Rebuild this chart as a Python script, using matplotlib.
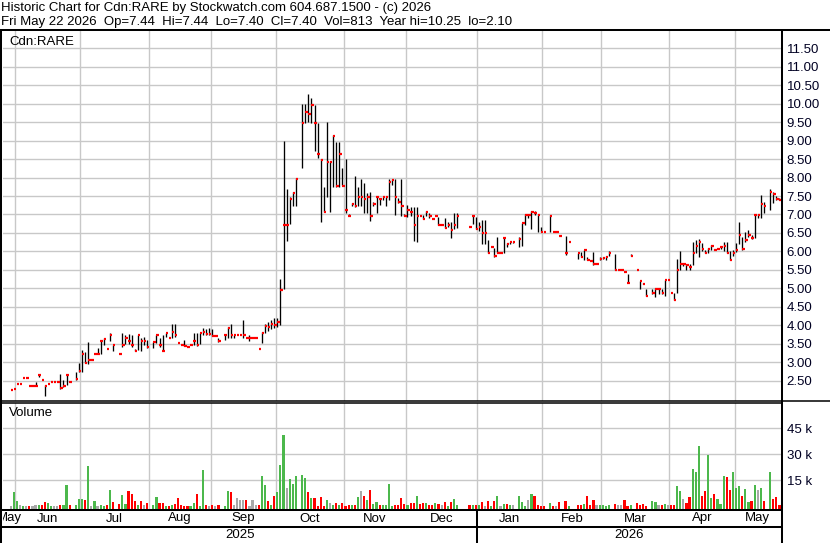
import numpy as np
import pandas as pd
import matplotlib
matplotlib.use("Agg")
import matplotlib.pyplot as plt
from matplotlib.lines import Line2D
from matplotlib.patches import Rectangle
from matplotlib.transforms import blended_transform_factory

plt.rcParams['font.family'] = ['Liberation Sans', 'DejaVu Sans']

# ---------------- text ----------------
TITLE = "Historic Chart for Cdn:RARE by Stockwatch.com 604.687.1500 - (c) 2026"
SUBTITLE = "Fri May 22 2026  Op=7.44  Hi=7.44  Lo=7.40  Cl=7.40  Vol=813  Year hi=10.25  lo=2.10"
SYMBOL = "Cdn:RARE"
VOL_LABEL = "Volume"

# ---------------- trading calendar ----------------
start_date, end_date = "2025-05-27", "2026-05-22"
holidays = ["2025-07-01", "2025-08-04", "2025-09-01", "2025-10-13",
            "2026-01-01", "2026-02-16", "2026-04-03", "2026-05-18"]

# ---------------- daily data ----------------
close = [
    # May 2025
    None, None, 2.25, 2.29,
    # Jun
    2.42, 2.42, 2.59, 2.59, 2.37, 2.37, 2.37, 2.66, 2.54, 2.37, 2.42, 2.48, 2.48, 2.48, 2.32, 2.37, 2.66, 2.48, None, 2.55, 2.78,
    # Jul
    3.23, 2.98, 3.07, 3.07, 3.23, 3.23, 3.59, 3.64, 3.36, 3.73, 3.48, None, 3.23, 3.48, 3.66, 3.59, 3.48, 3.32, 3.73, 3.59, 3.59, 3.43,
    # Aug
    None, 3.55, 3.73, 3.48, 3.32, 3.79, 3.67, 3.83, 3.73, 3.54, 3.48, 3.45, 3.43, 3.48, 3.59, 3.48, 3.79, 3.83, 3.78, 3.78,
    # Sep
    3.72, 3.72, 3.59, None, 3.73, 3.94, 3.73, 3.73, 3.73, 3.73, 3.73, 3.67, 3.67, 3.67, 3.67, 3.37, 3.79, 3.99, 3.95, 4.05, 4.00,
    # Oct
    4.10, 4.97, 6.72, 6.72, 7.42, 7.59, 7.96, None, 9.48, 9.78, 9.72, 9.96, 9.48, 8.64, 8.47, 7.08, 8.43, 8.43, 9.13, 7.78, 8.64, 7.78,
    # Nov
    7.12, 6.97, 7.28, 7.24, 7.48, 7.48, 7.42, 7.48, 6.97, 7.28, 7.48, 7.42, 7.46, 7.48, 7.89, 7.93, 7.48, 7.33, 7.24, 6.97,
    # Dec
    7.12, 7.08, 6.72, 6.97, 6.95, 6.88, 7.08, 6.97, 6.88, 6.97, 6.72, 6.72, 6.64, 6.72, 6.58, 6.72, 6.97, None, None, None, 6.67, 6.97, 6.61,
    # Jan 2026
    6.67, 6.49, 6.49, 5.97, 6.13, 5.89, 5.97, 5.97, 6.37, 6.19, 6.25, 6.25, None, 6.33, 6.77, 6.98, 6.98, 7.08, 7.05, 6.98, 6.54,
    # Feb
    6.53, None, 6.95, 6.53, 6.53, 6.41, None, 5.97, 6.25, None, None, 5.97, 5.84, 6.03, 5.78, 5.73, 5.65, 5.65, 5.80,
    # Mar
    5.82, 5.85, 5.97, None, 5.51, 5.51, 5.51, 5.44, 5.15, 5.89, None, 5.51, 5.19, 5.13, 4.79, None, 4.89, 4.98, 4.98, 4.89, 5.22, 5.22,
    # Apr
    4.89, 4.68, 5.49, 5.67, 5.67, 5.64, 5.58, 5.97, 6.14, 6.25, 6.08, 5.97, 6.08, 6.14, 6.05, 6.08, 6.12, 6.14, 5.96, 5.78, 5.96,
    # May
    6.05, 6.45, 6.08, 6.30, 6.45, 6.36, 6.98, 6.98, 7.29, 7.24, None, 7.62, 7.56, 7.42, 7.40,
]

high = [
    # May 2025
    None, None, 2.25, 2.29,
    # Jun
    2.42, 2.42, 2.59, 2.59, 2.37, 2.37, 2.48, 2.69, 2.54, 2.39, 2.42, 2.48, 2.48, 2.48, 2.69, 2.53, 2.66, 2.48, None, 2.75, 2.98,
    # Jul
    3.34, 3.29, 3.55, 3.07, 3.23, 3.38, 3.59, 3.65, 3.36, 3.81, 3.48, None, 3.23, 3.81, 3.74, 3.78, 3.74, 3.36, 3.74, 3.65, 3.70, 3.61,
    # Aug
    None, 3.56, 3.74, 3.65, 3.74, 3.81, 3.67, 4.04, 4.04, 3.54, 3.48, 3.60, 3.43, 3.48, 3.79, 3.81, 3.81, 3.93, 3.90, 3.93,
    # Sep
    3.90, 3.72, 3.65, None, 3.74, 3.97, 4.03, 3.73, 3.73, 3.73, 4.15, 3.67, 3.73, 3.67, 3.67, 3.37, 3.83, 4.05, 4.10, 4.15, 4.20,
    # Oct
    4.20, 5.26, 8.99, 7.69, 7.48, 7.62, 7.98, None, 9.99, 9.98, 10.25, 10.16, 9.96, 9.46, 8.50, 7.75, 9.51, 8.45, 9.15, 8.97, 8.95, 8.27,
    # Nov
    8.50, 7.00, 7.30, 8.05, 7.75, 7.96, 7.84, 7.57, 7.60, 7.35, 7.48, 7.45, 7.48, 7.48, 7.96, 7.96, 7.96, 7.44, 7.96, 7.00,
    # Dec
    7.26, 7.21, 7.21, 7.21, 6.97, 6.99, 7.10, 7.03, 6.88, 6.97, 6.94, 6.72, 6.91, 6.80, 6.80, 7.03, 7.03, None, None, None, 6.67, 6.99, 6.94,
    # Jan 2026
    6.80, 6.85, 6.85, 6.31, 6.13, 6.10, 6.40, 5.97, 6.40, 6.22, 6.27, 6.27, None, 6.40, 6.77, 7.00, 6.99, 7.10, 7.10, 6.99, 6.65,
    # Feb
    6.53, None, 6.99, 6.53, 6.53, 6.41, None, 6.41, 6.25, None, None, 5.97, 5.99, 6.05, 5.85, 5.73, 5.98, 5.65, 5.84,
    # Mar
    5.84, 5.87, 6.00, None, 5.94, 5.51, 5.51, 5.44, 5.40, 5.92, None, 5.51, 5.19, 5.15, 4.98, None, 4.98, 5.01, 4.98, 4.98, 5.22, 5.22,
    # Apr
    4.89, 4.89, 5.80, 6.00, 5.67, 5.67, 5.67, 6.25, 6.30, 6.34, 6.22, 6.05, 6.10, 6.18, 6.08, 6.08, 6.14, 6.27, 6.25, 6.00, 6.05,
    # May
    6.23, 6.81, 6.40, 6.54, 6.59, 6.45, 6.99, 7.00, 7.53, 7.35, None, 7.68, 7.62, 7.50, 7.44,
]

low = [
    # May 2025
    None, None, 2.25, 2.29,
    # Jun
    2.42, 2.42, 2.59, 2.59, 2.37, 2.37, 2.37, 2.60, 2.54, 2.10, 2.42, 2.48, 2.48, 2.48, 2.29, 2.35, 2.39, 2.48, None, 2.53, 2.75,
    # Jul
    2.73, 2.98, 2.96, 3.07, 3.23, 3.23, 3.23, 3.47, 3.36, 3.59, 3.30, None, 3.23, 3.43, 3.50, 3.50, 3.43, 3.32, 3.34, 3.32, 3.48, 3.39,
    # Aug
    None, 3.38, 3.52, 3.43, 3.30, 3.70, 3.67, 3.65, 3.70, 3.54, 3.48, 3.45, 3.43, 3.48, 3.47, 3.45, 3.50, 3.74, 3.75, 3.75,
    # Sep
    3.72, 3.72, 3.56, None, 3.60, 3.65, 3.65, 3.66, 3.73, 3.73, 3.65, 3.67, 3.59, 3.67, 3.67, 3.37, 3.54, 3.80, 3.85, 3.90, 3.92,
    # Oct
    3.95, 4.00, 4.99, 6.29, 6.73, 7.24, 7.24, None, 8.25, 9.48, 9.51, 9.48, 8.72, 8.54, 6.79, 7.06, 7.48, 7.08, 7.73, 7.75, 7.75, 7.80,
    # Nov
    7.03, 6.95, 7.22, 7.21, 7.24, 7.24, 7.03, 7.03, 6.82, 7.24, 7.03, 7.27, 7.40, 7.24, 7.39, 7.80, 6.99, 7.30, 6.97, 6.95,
    # Dec
    6.94, 6.97, 6.28, 6.25, 6.95, 6.88, 6.97, 6.90, 6.88, 6.97, 6.72, 6.72, 6.64, 6.67, 6.37, 6.61, 6.63, None, None, None, 6.67, 6.73, 6.61,
    # Jan 2026
    6.55, 6.19, 6.19, 5.95, 6.13, 5.86, 5.95, 5.97, 5.95, 6.12, 6.20, 6.22, None, 6.12, 6.14, 6.72, 6.90, 6.60, 6.98, 6.54, 6.54,
    # Feb
    6.53, None, 6.52, 6.53, 6.53, 6.41, None, 5.91, 6.25, None, None, 5.80, 5.84, 5.78, 5.78, 5.73, 5.64, 5.65, 5.76,
    # Mar
    5.80, 5.78, 5.89, None, 5.49, 5.51, 5.51, 5.44, 5.15, 5.89, None, 5.51, 4.98, 5.13, 4.79, None, 4.86, 4.77, 4.85, 4.85, 4.79, 5.22,
    # Apr
    4.89, 4.68, 4.89, 5.51, 5.60, 5.51, 5.51, 5.64, 5.95, 5.85, 6.00, 5.95, 5.97, 6.05, 6.05, 6.08, 6.07, 6.00, 5.96, 5.76, 5.88,
    # May
    5.99, 6.20, 6.05, 6.27, 6.40, 6.33, 6.36, 6.90, 6.90, 7.04, None, 7.11, 7.31, 7.40, 7.40,
]

volume_k = [
    # May 2025
    0, 0, 0.3, 8.1,
    # Jun
    3.1, 0.5, 0.3, 0.3, 0.3, 0.3, 0.5, 0.5, 0.8, 2.3, 2.0, 0.3, 0.3, 0.3, 0.5, 0.5, 12.3, 0.5, 0, 0.5, 4.2,
    # Jul
    4.2, 3.6, 23.3, 0.3, 3.0, 0.3, 0.5, 0.2, 0.5, 9.4, 2.5, 0, 1.3, 6.5, 1.3, 8.8, 7.1, 3.1, 0.5, 3.1, 0.5, 1.9,
    # Aug
    0, 0.8, 5.4, 1.9, 1.9, 0.2, 0.2, 0.8, 1.3, 4.8, 0.5, 0.2, 0.2, 0.2, 1.9, 7.1, 0.2, 21.0, 0.5, 0.2,
    # Sep
    0.5, 0.2, 0.5, 0, 0.2, 8.8, 8.3, 0.8, 4.8, 3.6, 3.6, 3.6, 0.2, 3.6, 0.5, 0.5, 17.5, 12.3, 3.1, 0.8, 6.0,
    # Oct
    8.3, 23.8, 41.0, 10.6, 15.8, 12.9, 17.5, 0, 18.0, 16.3, 8.3, 4.8, 4.8, 0.2, 5.4, 0.2, 3.6, 1.9, 0.5, 1.9, 0.5, 1.9,
    # Nov
    0.3, 0.8, 0.8, 0.8, 5.4, 8.8, 6.0, 3.6, 9.4, 1.3, 2.5, 0.5, 0.8, 0.8, 12.9, 0.2, 0.5, 0.5, 4.8, 1.3,
    # Dec
    0.8, 1.9, 1.9, 6.0, 1.3, 1.9, 1.9, 0.8, 0.8, 1.9, 1.3, 0.8, 2.5, 0.2, 2.5, 4.2, 0.5, 0, 0, 0, 0.5, 0.5, 0.5,
    # Jan 2026
    0.8, 2.5, 0.2, 3.1, 0.2, 3.1, 6.0, 0.2, 1.3, 1.3, 0.8, 0.5, 0, 6.0, 2.5, 0.2, 3.6, 7.1, 6.0, 0.8, 0.3,
    # Feb
    0.3, 0, 1.9, 0.2, 0.2, 2.5, 0, 3.1, 0.2, 0, 0, 0.5, 0.8, 1.3, 6.0, 0.5, 3.6, 0.5, 0.5,
    # Mar
    0.5, 0.2, 0.8, 0, 1.3, 0.5, 0.5, 3.6, 0.2, 0.5, 0, 1.9, 0.5, 1.3, 0.2, 0, 3.1, 2.5, 0.5, 0.5, 1.3, 0.5,
    # Apr
    0.8, 0.5, 11.7, 8.8, 4.0, 1.9, 5.4, 21.5, 19.8, 34.8, 6.0, 8.8, 29.6, 4.8, 7.1, 4.2, 1.3, 17.5, 16.9, 9.4, 19.8,
    # May
    10.6, 11.7, 6.0, 10.0, 2.5, 3.1, 12.3, 9.4, 10.6, 3.1, 0, 19.8, 4.2, 5.4, 0.813,
]

price_ticks = [2.5, 3.0, 3.5, 4.0, 4.5, 5.0, 5.5, 6.0, 6.5, 7.0, 7.5, 8.0, 8.5,
               9.0, 9.5, 10.0, 10.5, 11.0, 11.5]
volume_ticks_k = [15, 30, 45]

# ---------------- build ----------------
dates = pd.bdate_range(start_date, end_date)
dates = dates[~dates.isin(pd.to_datetime(holidays))]
N = len(dates)
c = np.array(close, dtype=float)
h = np.array(high, dtype=float)
l = np.array(low, dtype=float)
v = np.array(volume_k, dtype=float)
assert len(c) == len(h) == len(l) == len(v) == N, (len(c), len(h), len(l), len(v), N)
x = np.arange(N)

GREEN, RED, GRAY = "#4CB84C", "#FF0000", "#A8A8A8"
GRID = "#C8C8C8"
FS = 9.5

W, H = 830, 543
fig = plt.figure(figsize=(W / 100, H / 100), dpi=100)
fig.patch.set_facecolor("white")


def fx(px):
    return px / W


def fy(py):
    return 1 - py / H


PLOT_L, PLOT_R = 3, 781
P_TOP, P_BOT = 31, 400.7
V_TOP, V_BOT = 402.7, 509

ax_p = fig.add_axes([fx(PLOT_L), fy(P_BOT), (PLOT_R - PLOT_L) / W, (P_BOT - P_TOP) / H])
ax_v = fig.add_axes([fx(PLOT_L), fy(V_BOT), (PLOT_R - PLOT_L) / W, (V_BOT - V_TOP) / H])

for ax in (ax_p, ax_v):
    ax.set_xlim(-0.5, N - 0.5)
    for s in ax.spines.values():
        s.set_visible(False)
    ax.set_xticks([])
    ax.yaxis.tick_right()
    ax.tick_params(axis="y", length=0, pad=4.0, labelsize=FS, labelcolor="#000022")
    ax.set_axisbelow(True)

# month boundaries
months = pd.Series(dates.to_period("M"))
month_start_idx = [i for i in range(N) if i == 0 or months[i] != months[i - 1]]
bounds = [i - 0.5 for i in month_start_idx[1:]]
for ax in (ax_p, ax_v):
    for b in bounds:
        ax.axvline(b, color=GRID, lw=1.0, zorder=0)

# ---- price panel ----
ax_p.set_ylim(1.967, 11.96)
ax_p.set_yticks(price_ticks)
ax_p.set_yticklabels([f"{t:.2f}" for t in price_ticks])
ax_p.grid(axis="y", color=GRID, lw=1.0)

valid = ~np.isnan(c)
bar_mask = valid & (h > l)
ax_p.vlines(x[bar_mask], l[bar_mask], h[bar_mask], colors="black", lw=0.95, zorder=3)
tick = ax_p.hlines(c[valid], x[valid] - 0.05, x[valid] + 0.75, colors=RED, lw=1.6, zorder=4)
tick.set_capstyle("butt")

# ---- volume panel ----
v_low, v_high = -1.6, 59.8
ax_v.set_ylim(v_low, v_high)
ax_v.set_yticks(volume_ticks_k)
ax_v.set_yticklabels([f"{t} k" for t in volume_ticks_k])
ax_v.grid(axis="y", color=GRID, lw=1.0)

colors = []
prev = np.nan
for i in range(N):
    if np.isnan(c[i]) or np.isnan(prev):
        colors.append(GRAY)
    elif c[i] > prev:
        colors.append(GREEN)
    elif c[i] < prev:
        colors.append(RED)
    else:
        colors.append(GRAY)
    if not np.isnan(c[i]):
        prev = c[i]
has_v = v > 0
ax_v.bar(x[has_v], v[has_v] - v_low, bottom=v_low, width=0.7,
         color=[colors[i] for i in np.where(has_v)[0]], zorder=3,
         linewidth=0, antialiased=False)

# ---- labels inside panels ----
fig.text(fx(9), fy(42), SYMBOL, fontsize=FS, va="center", ha="left")
fig.text(fx(9), fy(413), VOL_LABEL, fontsize=FS, va="center", ha="left")

# ---- header ----
fig.text(fx(1), fy(8), TITLE, fontsize=FS, va="center", ha="left")
fig.text(fx(1), fy(22), SUBTITLE, fontsize=FS, va="center", ha="left")

# ---- month and year labels ----
clip_rect = Rectangle((fx(PLOT_L), 0), (PLOT_R - PLOT_L) / W, fy(V_BOT),
                      transform=fig.transFigure, visible=False)
fig.add_artist(clip_rect)
btrans = blended_transform_factory(ax_v.transData, fig.transFigure)
edges = month_start_idx + [N]
for k in range(len(month_start_idx)):
    a, b = edges[k] - 0.5, edges[k + 1] - 0.5
    name = dates[edges[k]].strftime("%b")
    t = fig.text((a + b) / 2, fy(518.5), name, transform=btrans, ha="center",
                 va="center", fontsize=FS)
    t.set_clip_path(clip_rect)

years = pd.Series(dates.year)
year_start_idx = [i for i in range(N) if i == 0 or years[i] != years[i - 1]]
yedges = year_start_idx + [N]
for k in range(len(year_start_idx)):
    a, b = yedges[k] - 0.5, yedges[k + 1] - 0.5
    fig.text((a + b) / 2, fy(535.5), str(dates[yedges[k]].year), transform=btrans,
             ha="center", va="center", fontsize=FS)

# ---- frame lines ----
def hline(y, x0, x1, lw=1.45):
    fig.add_artist(Line2D([fx(x0), fx(x1)], [fy(y), fy(y)], transform=fig.transFigure,
                          color="black", lw=lw, solid_capstyle="butt"))


def vline(xp, y0, y1, lw=1.45):
    fig.add_artist(Line2D([fx(xp), fx(xp)], [fy(y0), fy(y1)], transform=fig.transFigure,
                          color="black", lw=lw, solid_capstyle="butt"))


hline(30, 0, W)
hline(400.7, 0, W, lw=1.1)
hline(402.9, 0, PLOT_R, lw=1.1)
hline(509.5, 0, PLOT_R)
hline(527, 0, PLOT_R)
vline(1, 30, H)
vline(PLOT_R + 0.8, 30, H)
jan_x = ax_v.transData.transform((year_start_idx[1] - 0.5, 0))[0]
vline(jan_x, 509.5, H)

fig.savefig("out.png", dpi=100)
